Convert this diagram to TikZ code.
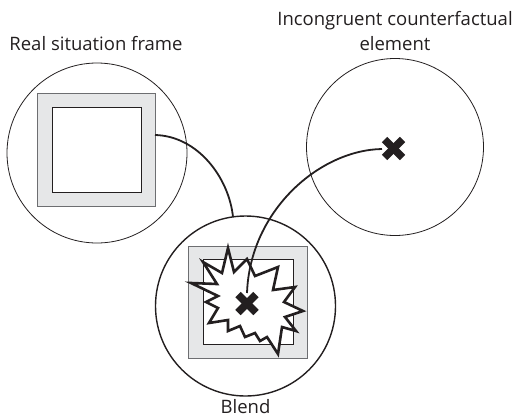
\documentclass[tikz,border=0pt]{standalone}
\usepackage{fontspec}
\setmainfont{Open Sans}
\usetikzlibrary{calc}
\definecolor{ink}{HTML}{231F20}
\definecolor{framegray}{HTML}{E6E7E8}
\definecolor{frameedge}{HTML}{6D6E71}
\tikzset{
  space/.style={circle, draw=ink, line width=0.8pt, minimum size=#1, inner sep=0pt},
  outerframe/.style={rectangle, draw=frameedge, line width=1pt, fill=framegray, inner sep=0pt},
  innerframe/.style={rectangle, draw=ink, line width=1pt, fill=white, inner sep=0pt},
  label text/.style={font=\fontsize{18.5}{25}\selectfont, text=ink, align=center},
  link/.style={draw=ink, line width=1.8pt},
  crossmark/.style={draw=ink, line width=#1, line cap=butt},
}
\begin{document}
\begin{tikzpicture}[x=1pt, y=-1pt]
\useasboundingbox (0,0) rectangle (518,418);

% input spaces and blend
\node[space=180pt] (real) at (97,153) {};
\node[space=177pt] (counter) at (395,147) {};
\node[space=180pt, line width=1.4pt] (blend) at (245.5,306) {};

% labels
\node[label text, anchor=base] (reallab) at (96,50) {Real situation frame};
\node[label text, anchor=base] (counterlab) at (395,50) {Incongruent counterfactual\\element};
\node[label text, anchor=base] (blendlab) at (245.5,413) {Blend};

% frame in the real situation space
\node[outerframe, minimum width=118pt, minimum height=113pt] (realout) at (96,149.5) {};
\node[innerframe, minimum width=89pt, minimum height=85pt] (realin) at (96.5,149.5) {};

% frame in the blend
\node[outerframe, minimum width=119pt, minimum height=112pt] (blendout) at (247.5,302) {};
\node[innerframe, minimum width=90pt, minimum height=85pt] (blendin) at (248,301.5) {};

% clash burst in the blend
\draw[ink, line width=2.6pt, fill=white, line join=miter, miter limit=5]
  (191,283) -- (217,284) -- (203,262) -- (222,273) -- (228,248)
  -- (234,272) -- (247,259) -- (255,276) -- (278,267) -- (273,290)
  -- (295,287) -- (284,302) -- (303,311) -- (285,317) -- (296,331)
  -- (282,327) -- (278,354) -- (267,337) -- (260,341) -- (255,333)
  -- (245,337) -- (240,326) -- (228,331) -- (228,320) -- (209,323)
  -- (218,308) -- (206,302) -- (218,296) -- cycle;

% incongruent element marks
\coordinate (xc) at (393.5,148.5);
\coordinate (xb) at (247,303.5);
\draw[crossmark=7.5pt] ($(xc)+(-9,-9)$) -- ($(xc)+(9,9)$);
\draw[crossmark=7.5pt] ($(xc)+(-9,9)$) -- ($(xc)+(9,-9)$);
\draw[crossmark=7.5pt] ($(xb)+(-9,-9)$) -- ($(xb)+(9,9)$);
\draw[crossmark=7.5pt] ($(xb)+(-9,9)$) -- ($(xb)+(9,-9)$);

% projections into the blend
\coordinate (realport) at (155,135);
\coordinate (blendtop) at (233,217);
\coordinate (xcport) at (382,149);
\coordinate (xbport) at (247,293);
\draw[link] (realport) .. controls (198,136) and (229,178) .. (blendtop);
\draw[link] (xcport) .. controls (320,150) and (250,210) .. (xbport);
\end{tikzpicture}
\end{document}
